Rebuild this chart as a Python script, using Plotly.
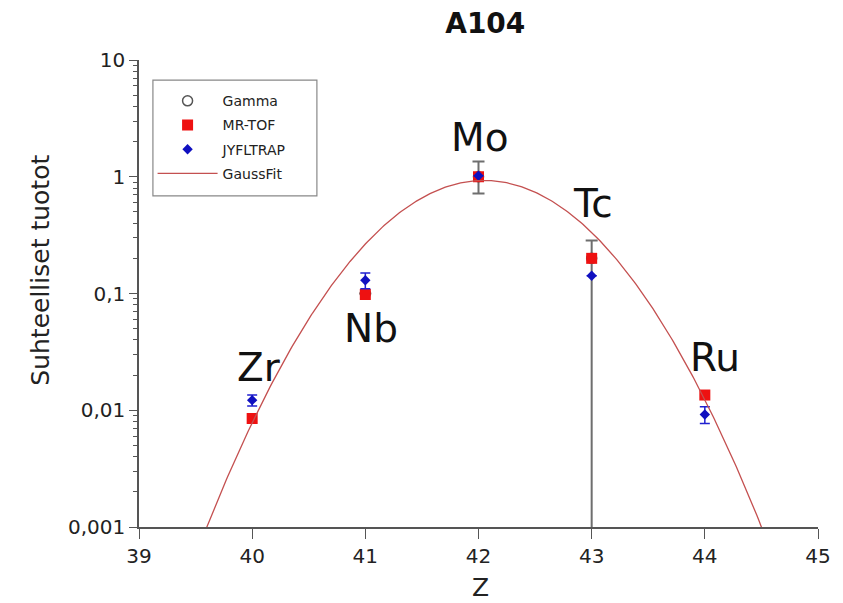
import numpy as np
import plotly.graph_objects as go

# ---- data ----
z_gamma = [41, 42, 43]
y_gamma = [0.1, 1.0, 0.2]
e_gamma_plus = [0.0, 0.35, 0.085]
e_gamma_minus = [0.0, 0.28, 0.1999]

z_mrtof = [40, 41, 42, 43, 44]
y_mrtof = [0.0085, 0.098, 1.0, 0.2, 0.0135]

z_jyfl = [40, 41, 42, 43, 44]
y_jyfl = [0.0122, 0.13, 1.02, 0.142, 0.0092]
e_jyfl = [0.0013, 0.02, 0.0, 0.0, 0.0015]

# Gaussian fit parameters (amplitude, centre, sigma)
fit_amp = 0.93
fit_mu = 42.05
fit_sigma = 0.663

element_labels = ["Zr", "Nb", "Mo", "Tc", "Ru"]
label_z = [40.06, 41.05, 42.01, 43.01, 44.09]
label_logy = [-1.638, -1.304, 0.340, -0.233, -1.552]

ytick_vals = [0.001, 0.01, 0.1, 1, 10]
ytick_text = ["0,001", "0,01", "0,1", "1", "10"]
xtick_vals = [39, 40, 41, 42, 43, 44, 45]

FONT = "DejaVu Sans"

zfit = np.linspace(39.0, 45.0, 400)
yfit = fit_amp * np.exp(-(zfit - fit_mu) ** 2 / (2 * fit_sigma ** 2))

fig = go.Figure()

fig.add_trace(go.Scatter(
    x=z_gamma, y=y_gamma, mode="markers", name="Gamma", legendgroup="g1",
    marker=dict(symbol="circle-open", size=10, color="#555555", line=dict(width=1.5)),
    error_y=dict(type="data", symmetric=False, array=e_gamma_plus, arrayminus=e_gamma_minus,
                 color="#6e6e6e", thickness=2, width=6),
))
fig.add_trace(go.Scatter(
    x=z_mrtof, y=y_mrtof, mode="markers", name="MR-TOF", legendgroup="g2",
    marker=dict(symbol="square", size=11, color="#ee1111"),
))
fig.add_trace(go.Scatter(
    x=z_jyfl, y=y_jyfl, mode="markers", name="JYFLTRAP", legendgroup="g3",
    marker=dict(symbol="diamond", size=8, color="#1010c0"),
    error_y=dict(type="data", array=e_jyfl, color="#2020d0", thickness=1.5, width=5),
))
fig.add_trace(go.Scatter(
    x=zfit, y=yfit, mode="lines", name="GaussFit", legendgroup="g4",
    line=dict(color="#c45050", width=1.3),
))

for lab, zx, ly in zip(element_labels, label_z, label_logy):
    fig.add_annotation(x=zx, y=ly, text=lab, showarrow=False,
                       font=dict(family=FONT, size=39, color="#111111"))

# axis titles
fig.add_annotation(x=-0.145, y=0.55, xref="paper", yref="paper", text="Suhteelliset tuotot",
                   textangle=-90, showarrow=False, xanchor="center", yanchor="middle",
                   font=dict(family=FONT, size=25, color="#222222"))
fig.add_annotation(x=0.503, y=-0.1306, xref="paper", yref="paper", text="Z",
                   showarrow=False, xanchor="center", yanchor="middle",
                   font=dict(family=FONT, size=25, color="#222222"))

# legend frame
fig.add_shape(type="rect", xref="paper", yref="paper", x0=0.0205, x1=0.262, y0=0.709, y1=0.957,
              line=dict(color="#888888", width=1.2), fillcolor="white", layer="below")

fig.update_layout(
    width=843, height=603,
    margin=dict(l=139, r=21, t=60, b=76),
    paper_bgcolor="white", plot_bgcolor="white",
    font=dict(family=FONT, color="#222222"),
    title=dict(text="<b>A104</b>", x=0.51, xref="paper", y=0.962, yanchor="middle",
               xanchor="center", font=dict(family=FONT, size=28, color="#111111")),
    showlegend=True,
    legend=dict(x=0.02, y=0.946, xanchor="left", yanchor="top",
                borderwidth=0, bgcolor="rgba(0,0,0,0)",
                font=dict(family=FONT, size=14, color="#222222"),
                itemwidth=60, tracegroupgap=3),
)

fig.update_xaxes(
    range=[39, 45], tickvals=xtick_vals, ticks="outside", ticklen=10,
    tickcolor="#555555", showline=True, linecolor="#555555", linewidth=1.5,
    showgrid=False, zeroline=False, tickfont=dict(family=FONT, size=20, color="#222222"),
)
fig.update_yaxes(
    type="log", range=[-3, 1], tickvals=ytick_vals, ticktext=ytick_text,
    ticks="outside", ticklen=8, tickcolor="#555555",
    minor=dict(ticks="outside", ticklen=4, tickcolor="#555555", dtick="D1", showgrid=False),
    showline=True, linecolor="#555555", linewidth=1.5, showgrid=False, zeroline=False,
    tickfont=dict(family=FONT, size=20, color="#222222"),
)

fig.write_html("out.html")
